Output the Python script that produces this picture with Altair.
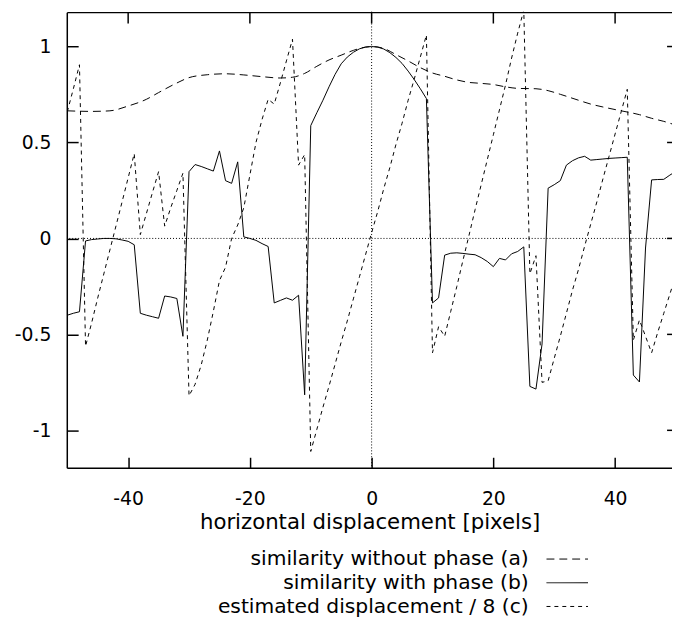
import altair as alt
import pandas as pd

# ---------------- data ----------------
# (a) similarity without phase
x_a = [-50, -46, -43, -40, -37, -35, -32, -30, -27, -24,
       -21, -18, -15, -13, -11, -9, -7, -5, -3, -1,
       0, 2, 4, 6, 8, 10, 12, 14, 16, 18,
       20, 22, 24, 27, 29, 31, 34, 36, 38, 41,
       44, 46, 48, 50]
y_a = [0.665, 0.662, 0.665, 0.69, 0.725, 0.76, 0.81, 0.838, 0.853, 0.858,
       0.852, 0.843, 0.836, 0.84, 0.86, 0.897, 0.93, 0.955, 0.98, 0.997,
       1.0, 0.99, 0.958, 0.925, 0.89, 0.862, 0.845, 0.826, 0.813, 0.808,
       0.802, 0.79, 0.782, 0.78, 0.77, 0.751, 0.72, 0.70, 0.685, 0.665,
       0.645, 0.626, 0.61, 0.59]

# shared integer displacement grid for (b) and (c)
x_int = list(range(-50, 51))

# (b) similarity with phase
y_b = [-0.40, -0.39, -0.382, -0.013, -0.006, -0.003, 0.0, 0.0, -0.002, -0.008,
       -0.015, -0.033, -0.39, -0.40, -0.408, -0.416, -0.30, -0.305, -0.313, -0.51,
       0.348, 0.385, 0.375, 0.363, 0.351, 0.456, 0.301, 0.287, 0.399, 0.008,
       0.0, -0.01, -0.027, -0.042, -0.336, -0.323, -0.31, -0.322, -0.296, -0.815,
       0.588, 0.655, 0.72, 0.79, 0.855, 0.91, 0.945, 0.97, 0.988, 0.997,
       1.0, 0.997, 0.987, 0.968, 0.943, 0.912, 0.872, 0.828, 0.78, 0.729,
       -0.336, -0.31, -0.087, -0.077, -0.075, -0.078, -0.082, -0.085, -0.10, -0.12,
       -0.147, -0.104, -0.112, -0.08, -0.068, -0.044, -0.771, -0.785, -0.55, 0.262,
       0.28, 0.301, 0.382, 0.405, 0.42, 0.428, 0.408, 0.411, 0.414, 0.417,
       0.419, 0.421, 0.423, -0.712, -0.748, -0.05, 0.305, 0.307, 0.308, 0.33,
       0.35]

# (c) estimated displacement / 8
y_c = [0.66, 0.78, 0.905, -0.562, -0.44, -0.31, -0.185, -0.06, 0.065, 0.19,
       0.316, 0.442, 0.02, 0.13, 0.24, 0.348, 0.064, 0.16, 0.25, 0.34,
       -0.82, -0.76, -0.66, -0.53, -0.38, -0.22, -0.15, 0.0, 0.07, 0.16,
       0.33, 0.50, 0.62, 0.725, 0.70, 0.81, 0.925, 1.038, 0.382, 0.437,
       -1.11, -0.995, -0.88, -0.77, -0.655, -0.54, -0.43, -0.315, -0.20, -0.085,
       0.03, 0.14, 0.26, 0.37, 0.49, 0.60, 0.72, 0.83, 0.945, 1.06,
       -0.596, -0.46, -0.51, -0.38, -0.25, -0.115, 0.016, 0.15, 0.28, 0.41,
       0.54, 0.67, 0.80, 0.94, 1.07, 1.19, -0.184, -0.09, -0.75, -0.742,
       -0.625, -0.51, -0.39, -0.27, -0.16, -0.04, 0.075, 0.19, 0.31, 0.427,
       0.544, 0.66, 0.777, -0.53, -0.425, -0.51, -0.596, -0.49, -0.39, -0.29,
       -0.19]

x_ticks = [-40, -20, 0, 20, 40]
y_ticks = [-1, -0.5, 0, 0.5, 1]
series_names = ["similarity without phase (a)",
                "similarity with phase (b)",
                "estimated displacement / 8 (c)"]
x_title = "horizontal displacement [pixels]"

# ---------------- styling / layout ----------------
W, H = 612, 462
FONT = "DejaVu Sans"
FS_TICK = 19
FS_TITLE = 21.5
FS_KEY = 20.5
TICK = 11
dashes = [[8, 5], [1, 0], [4, 4]]

# the reference frame runs past the right edge of the picture
xs = alt.Scale(domain=[-50, 49.35], nice=False, zero=False)
ys = alt.Scale(domain=[-1.197, 1.1818], nice=False, zero=False)

lab_expr = ("datum.value < 0 ? '-' + format(-datum.value, '~g') "
            ": format(datum.value, '~g')")

x_axis = alt.Axis(values=x_ticks, offset=-TICK, tickSize=TICK, tickWidth=1.5,
                  tickColor="black", domain=False, grid=False,
                  labelFont=FONT, labelFontSize=FS_TICK, labelColor="black",
                  labelPadding=21.5, labelExpr=lab_expr, labelFlush=False,
                  labelOverlap=False,
                  title=x_title, titleFont=FONT, titleFontSize=FS_TITLE,
                  titleFontWeight="normal", titleColor="black",
                  titleY=72.5, titleBaseline="alphabetic")
y_axis = alt.Axis(values=y_ticks, offset=-TICK, tickSize=TICK, tickWidth=1.5,
                  tickColor="black", domain=False, grid=False,
                  labelFont=FONT, labelFontSize=FS_TICK, labelColor="black",
                  labelPadding=16.5, labelExpr=lab_expr, labelFlush=False,
                  labelOverlap=False, title=None)


def X(field):
    return alt.X(field, scale=xs, axis=x_axis)


def Y(field):
    return alt.Y(field, scale=ys, axis=y_axis)


df_a = pd.DataFrame({"x": x_a, "y": y_a})
df_b = pd.DataFrame({"x": x_int, "y": y_b})
df_c = pd.DataFrame({"x": x_int, "y": y_c})

line_a = alt.Chart(df_a).mark_line(
    color="black", strokeWidth=1, strokeDash=dashes[0],
    interpolate="monotone", clip=True
).encode(x=X("x:Q"), y=Y("y:Q"))

line_b = alt.Chart(df_b).mark_line(
    color="black", strokeWidth=1, clip=True
).encode(x=X("x:Q"), y=Y("y:Q"))

line_c = alt.Chart(df_c).mark_line(
    color="black", strokeWidth=1, strokeDash=dashes[2], clip=True
).encode(x=X("x:Q"), y=Y("y:Q"))

zero_df = pd.DataFrame({"x": [0], "y": [0]})
zero_h = alt.Chart(zero_df).mark_rule(
    color="black", strokeWidth=1, strokeDash=[1, 2]
).encode(y=Y("y:Q"))
zero_v = alt.Chart(zero_df).mark_rule(
    color="black", strokeWidth=1, strokeDash=[1, 2]
).encode(x=X("x:Q"))

top_ticks = alt.Chart(pd.DataFrame({"x": x_ticks})).mark_rule(
    color="black", strokeWidth=1.5
).encode(x=X("x:Q"), y=alt.value(1), y2=alt.value(1 + TICK))
right_ticks = alt.Chart(pd.DataFrame({"y": y_ticks})).mark_rule(
    color="black", strokeWidth=1.5
).encode(y=Y("y:Q"), x=alt.value(W - 5), x2=alt.value(W))

# frame: top, left, bottom (the right side lies outside the picture)
frame_df = pd.DataFrame({"k": [0]})
frame_top = alt.Chart(frame_df).mark_rule(color="black", strokeWidth=1.5).encode(
    x=alt.value(0), x2=alt.value(W), y=alt.value(1))
frame_bottom = alt.Chart(frame_df).mark_rule(color="black", strokeWidth=1.5).encode(
    x=alt.value(0), x2=alt.value(W), y=alt.value(H))
frame_left = alt.Chart(frame_df).mark_rule(color="black", strokeWidth=1.5).encode(
    x=alt.value(0), y=alt.value(1), y2=alt.value(H))

# manual key: right-aligned labels with line samples to their right
legend_layers = []
text_right = 467
sample_x0, sample_x1 = 485, 527
row_base = [560.5, 584.5, 608.5]
row_mid = [554.0, 578.0, 602.0]
for i, name in enumerate(series_names):
    legend_layers.append(
        alt.Chart(pd.DataFrame({"t": [name]})).mark_text(
            align="right", baseline="alphabetic", font=FONT, fontSize=FS_KEY,
            color="black"
        ).encode(text="t:N", x=alt.value(text_right), y=alt.value(row_base[i]))
    )
    legend_layers.append(
        alt.Chart(pd.DataFrame({"t": [name]})).mark_rule(
            color="black", strokeWidth=1, strokeDash=dashes[i]
        ).encode(x=alt.value(sample_x0), x2=alt.value(sample_x1),
                 y=alt.value(row_mid[i]))
    )

chart = alt.layer(
    line_a, zero_h, zero_v, line_b, line_c, top_ticks, right_ticks,
    frame_top, frame_bottom, frame_left, *legend_layers
).properties(
    width=W, height=H,
    autosize=alt.AutoSizeParams(type="none"),
    padding={"left": 60, "top": 0, "right": 0, "bottom": 150},
    background="white",
).configure_view(stroke=None)

chart.save("out.html", embed_options={"renderer": "svg", "actions": False})
